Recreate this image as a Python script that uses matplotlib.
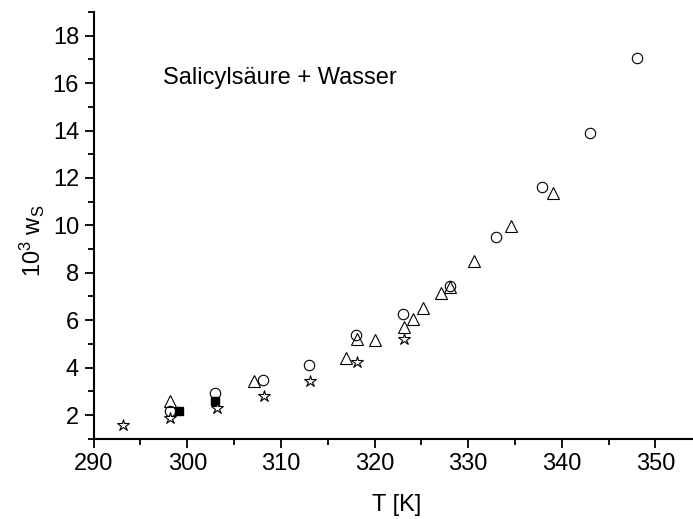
import matplotlib
matplotlib.use("Agg")
import matplotlib.pyplot as plt
from matplotlib.ticker import MultipleLocator

plt.rcParams['font.family'] = ['Liberation Sans', 'DejaVu Sans']
plt.rcParams['mathtext.fontset'] = 'custom'
plt.rcParams['mathtext.rm'] = 'Liberation Sans'
plt.rcParams['mathtext.it'] = 'Liberation Sans'

# open circles
T_kreis = [298.1, 303.0, 308.1, 313.0, 318.0, 323.0, 328.1, 333.0, 337.9, 343.0, 348.0]
w_kreis = [2.18, 2.91, 3.48, 4.09, 5.39, 6.26, 7.44, 9.52, 11.63, 13.88, 17.06]

# open triangles
T_dreieck = [298.15, 307.1, 317.0, 318.1, 320.05, 323.15, 324.15, 325.15, 327.1, 328.1, 330.6, 334.6, 339.1]
w_dreieck = [2.60, 3.42, 4.41, 5.21, 5.16, 5.73, 6.03, 6.51, 7.16, 7.38, 8.48, 9.97, 11.35]

# stars
T_stern = [293.15, 298.15, 303.15, 308.15, 313.15, 318.15, 323.15]
w_stern = [1.59, 1.87, 2.30, 2.81, 3.45, 4.22, 5.19]

# filled squares
T_quadrat = [299.1, 303.0]
w_quadrat = [2.18, 2.60]

fig = plt.figure(figsize=(6.93, 5.19), dpi=100)
ax = fig.add_axes([0.1352, 0.1547, 0.8645, 0.8222])

ax.plot(T_kreis, w_kreis, 'o', mfc='white', mec='black', ms=7.5, mew=0.8, ls='none')
ax.plot(T_dreieck, w_dreieck, '^', mfc='none', mec='black', ms=8.5, mew=0.8, ls='none')
ax.plot(T_quadrat, w_quadrat, 's', mfc='black', mec='black', ms=6, ls='none')
ax.plot(T_stern, w_stern, '*', mfc='white', mec='black', ms=9, mew=0.8, ls='none')

ax.set_xlim(290, 354)
ax.set_ylim(1, 19)
ax.xaxis.set_major_locator(MultipleLocator(10))
ax.xaxis.set_minor_locator(MultipleLocator(5))
ax.yaxis.set_major_locator(MultipleLocator(2))
ax.yaxis.set_minor_locator(MultipleLocator(1))

for s in ['top', 'right']:
    ax.spines[s].set_visible(False)
for s in ['left', 'bottom']:
    ax.spines[s].set_linewidth(1.5)

ax.tick_params(which='major', direction='out', length=6.5, width=1.3, labelsize=17, pad=4)
ax.tick_params(which='minor', direction='out', length=4, width=1.3)

ax.set_xlabel('T [K]', fontsize=17)
ax.xaxis.set_label_coords(0.505, -0.13)
ax.set_ylabel('10$^3$ w$_\\mathrm{S}$', fontsize=17)
ax.yaxis.set_label_coords(-0.078, 0.463)

ax.text(0.1157, 0.845, 'Salicylsäure + Wasser', transform=ax.transAxes,
        fontsize=17, va='center', ha='left')

fig.savefig('out.png', dpi=100)
